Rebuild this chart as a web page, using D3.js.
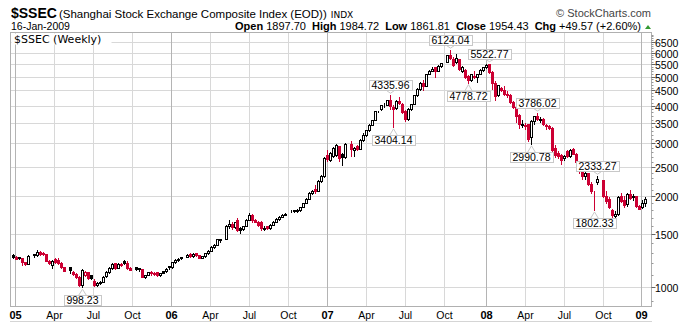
<!DOCTYPE html>
<html><head><meta charset="utf-8">
<script src="https://cdn.jsdelivr.net/npm/d3@7"></script>
<style>
html,body{margin:0;padding:0;background:#fff;}
svg{display:block;font-family:"Liberation Sans",Arial,sans-serif;}
</style></head><body>
<svg id="chart" width="700" height="323"></svg>
<script>
// ---- DATA ----
const firstWeek = "2004-12-27";           // Monday of the first weekly bar
// weekly bars [open, high, low, close]; null = exchange closed all week
const ohlc2005 = [
 [1280,1286,1250,1262],[1262,1268,1235,1242],[1256,1262,1236,1248],[1244,1250,1185,1213],[1210,1215,1180,1192],
 [1195,1282,1188,1272],null,[1288,1292,1262,1276],[1276,1328,1270,1312],[1310,1316,1280,1290],
 [1298,1310,1282,1285],[1285,1290,1216,1222],[1224,1228,1195,1198],[1185,1230,1156,1224],[1240,1246,1206,1212],
 [1232,1250,1196,1200],[1204,1208,1158,1164],[1162,1166,1126,1130],null,[1162,1166,1112,1136],
 [1124,1128,1100,1104],[1106,1110,1075,1080],[1082,1086,1010,1014],[1012,1148,998.23,1140],[1100,1128,1086,1118],
 [1118,1125,1060,1072],[1094,1100,1066,1072],[1050,1062,1008,1015],[1015,1040,1004,1035],[1035,1050,1020,1042],
 [1042,1090,1038,1083],[1084,1126,1078,1120],[1120,1165,1115,1160],[1160,1205,1152,1196],[1198,1204,1150,1158],
 [1160,1200,1155,1194],[1184,1200,1172,1190],[1218,1226,1195,1200],[1205,1223,1150,1158],[1157,1162,1136,1140],
 null,[1162,1166,1140,1146],[1155,1158,1130,1148],[1150,1152,1078,1082],[1080,1098,1070,1094],
 [1100,1125,1095,1118],[1118,1126,1100,1110],[1110,1118,1098,1106],[1118,1122,1090,1096],[1092,1115,1085,1110],
 [1126,1132,1112,1116],[1128,1158,1124,1152],[1170,1175,1150,1161]
];
const ohlc2006 = [
 [1163,1212,1158,1208],[1212,1235,1205,1230],[1228,1248,1220,1242],[1245,1262,1238,1258],null,
 [1262,1285,1258,1280],[1285,1302,1262,1270],[1268,1300,1262,1292],[1295,1302,1270,1275],[1275,1280,1245,1250],
 [1250,1272,1245,1268],[1268,1300,1262,1296],[1296,1330,1290,1322],[1322,1370,1318,1360],[1360,1385,1350,1378],
 [1378,1448,1375,1440],[1430,1445,1410,1440],null,[1445,1602,1440,1595],[1600,1665,1575,1625],
 [1625,1640,1555,1585],[1580,1650,1570,1640],[1670,1690,1540,1550],[1568,1580,1510,1552],[1555,1600,1545,1595],
 [1595,1680,1590,1672],[1672,1757,1665,1730],[1735,1745,1650,1670],[1665,1680,1640,1648],[1650,1660,1600,1612],
 [1645,1660,1550,1565],[1560,1590,1541,1575],[1590,1600,1560,1570],[1565,1615,1560,1610],[1610,1660,1605,1650],
 [1650,1690,1640,1680],[1682,1720,1670,1712],[1712,1745,1705,1738],[1738,1760,1730,1752],null,
 [1795,1800,1775,1785],[1788,1805,1778,1796],[1795,1810,1780,1802],[1800,1850,1790,1845],[1845,1905,1840,1900],
 [1900,1975,1895,1965],[1965,2070,1960,2060],[2050,2100,2030,2090],[2120,2180,2060,2080],[2090,2260,2080,2250],
 [2255,2350,2230,2330],[2330,2698,2320,2675]
];
const ohlc2007 = [
 [2740,2848,2630,2665],[2640,2800,2620,2790],[2720,2910,2700,2890],[2750,2990,2720,2960],[2930,2945,2615,2675],
 [2760,2780,2545,2700],[2700,3000,2690,2980],null,[2995,3049,2720,2880],[2860,2920,2720,2905],
 [2930,2960,2850,2880],[2880,3100,2870,3090],[3090,3250,3060,3200],[3200,3330,3180,3323],[3320,3470,3300,3444],
 [3450,3600,3440,3584],[3590,3850,3580,3841],[3841,3852,3800,3845],[3900,4030,3880,4021],[4030,4100,3950,4030],
 [4030,4190,4010,4181],[4190,4335.96,3900,4000],[3970,4020,3404.14,3913],[3920,4180,3910,4152],[4160,4270,4050,4091],
 [4060,4090,3780,3820],[3830,3860,3563,3615],[3620,3930,3600,3915],[3915,4070,3880,4058],[4060,4350,4050,4345],
 [4350,4570,4320,4560],[4560,4800,4530,4749],[4760,4890,4500,4656],[4660,5110,4650,5108],[5110,5260,5100,5218],
 [5220,5395,5200,5300],[5380,5400,5000,5200],[5220,5460,5200,5420],[5430,5560,5380,5552],null,
 [5600,5913,5590,5900],[5920,6124.04,5740,5780],[5740,5790,5420,5480],[5590,5960,5560,5777],[5700,5720,5260,5316],
 [5220,5440,5180,5368],[5250,5280,4950,5000],[5030,5060,4778.72,4871],[4870,5100,4850,5091],[4970,5200,4950,5030],
 [5000,5110,4810,5101],[5110,5290,5100,5261],[5265,5370,5200,5361]
];
const ohlc2008 = [
 [5370,5500,5330,5484],[5490,5522.77,5150,5180],[5180,5200,4559,4761],[4760,4850,4195,4320],[4330,4680,4300,4672],
 [4600,4610,4480,4497],[4500,4650,4360,4370],[4370,4480,4280,4348],[4340,4390,4100,4120],[4120,4150,3930,3962],
 [3950,3960,3541,3700],[3720,3760,3380,3470],[3440,3600,3400,3480],[3420,3500,3350,3460],[3470,3480,3050,3094],
 [3150,3580,2990.78,3558],[3560,3710,3490,3693],[3700,3786.02,3580,3613],[3600,3680,3520,3626],[3620,3640,3440,3474],
 [3460,3480,3360,3433],[3430,3460,3340,3379],[3380,3390,2820,2860],[2900,2970,2710,2748],[2780,2840,2690,2720],
 [2740,2760,2566,2640],[2680,2740,2640,2725],[2830,2860,2700,2720],[2720,2880,2700,2860],[2870,2900,2760,2775],
 [2770,2780,2580,2605],[2600,2610,2400,2440],[2440,2480,2284,2330],[2330,2420,2290,2397],[2390,2400,2180,2202],
 [2200,2230,2050,2079],[2070,2086,1802.33,2075],[2240,2333.27,2200,2293],null,[2260,2270,1990,2000],
 [2000,2080,1900,1930],[1955,1990,1830,1840],[1800,1812,1664.93,1728],[1720,1790,1680,1747],[1750,2000,1740,1987],
 [2000,2050,1920,1930],[1940,2000,1850,1871],[1880,2050,1860,2035],[2040,2100,1960,1972],[1990,2040,1950,2001],
 [2000,2010,1850,1861],[1855,1870,1814,1821]
];
const ohlc2009 = [
 [1850,1950,1830,1904],[1897.70,1984.72,1861.81,1954.43]
];
const yTicks = [1000,1500,2000,2500,3000,3500,4000,4500,5000,5500,6000,6500];
const peakLabels = [998.23, 4335.96, 3404.14, 6124.04, 4778.72, 5522.77, 2990.78, 3786.02, 2333.27, 1802.33];
const monthNames = ["Jan","Feb","Mar","Apr","May","Jun","Jul","Aug","Sep","Oct","Nov","Dec"];
const gridMonths = [0,3,6,9];
const symbol = "$SSEC";
const titleText = "(Shanghai Stock Exchange Composite Index (EOD))";
const exchText = "INDX";
const dateText = "16-Jan-2009";
const panelLabel = "$SSEC (Weekly)";
const quoteNames = ["Open","High","Low","Close","Chg"];
const quoteValues = ["1897.70","1984.72","1861.81","1954.43","+49.57 (+2.60%)"];
const credit = "\u00A9 StockCharts.com";

// ---- LAYOUT ----
const W = 700, H = 323;
const P = {left: 10.5, right: 651.5, top: 32.5, bottom: 306.5};
const RED = "#cc0033";
const svg = d3.select("#chart");

const bars = [].concat(ohlc2005, ohlc2006, ohlc2007, ohlc2008, ohlc2009);
const start = d3.utcParse("%Y-%m-%d")(firstWeek);
let prev = null;
const data = bars.map((v, i) => {
  const d = {i, date: d3.utcDay.offset(start, 7 * i), v, prev};
  if (v) prev = v[3];
  return d;
});

const x = d3.scaleLinear().domain([0, bars.length - 1]).range([12.8, 12.8 + 2.996 * (bars.length - 1)]);
const y = d3.scaleLog().domain([1000, 10000]).range([287, -14]);

// background grid
const grid = svg.append("g");
yTicks.forEach(t => {
  const yy = Math.round(y(t)) + 0.5;
  grid.append("line").attr("x1", P.left).attr("x2", P.right).attr("y1", yy).attr("y2", yy)
    .attr("stroke", "#d8d8d8").attr("stroke-width", 1);
});
const xMarks = [];
data.forEach((d, k) => {
  const m = d.date.getUTCMonth();
  const pm = k > 0 ? data[k - 1].date.getUTCMonth() : -1;
  if (k > 0 && m !== pm && gridMonths.includes(m)) {
    xMarks.push({i: d.i, year: m === 0, label: m === 0 ? d3.utcFormat("%y")(d.date) : monthNames[m]});
  }
});
xMarks.forEach(mk => {
  const xx = Math.floor(x(mk.i)) + 0.5;
  grid.append("line").attr("x1", xx).attr("x2", xx).attr("y1", P.top).attr("y2", P.bottom)
    .attr("stroke", mk.year ? "#b4b4b4" : "#d8d8d8").attr("stroke-width", 1);
});

// frame
svg.append("rect").attr("x", P.left).attr("y", P.top).attr("width", P.right - P.left).attr("height", P.bottom - P.top)
  .attr("fill", "none").attr("stroke", "#b0b0b0");

// panel label
const pl = svg.append("g");
pl.append("rect").attr("x", P.left + 1).attr("y", P.top + 1).attr("width", 100).attr("height", 11).attr("fill", "#fff");
pl.append("text").attr("x", 14).attr("y", 43).attr("font-family", "DejaVu Sans, Verdana, sans-serif")
  .attr("font-size", 11).attr("fill", "#000").text(panelLabel);

// candles
const cg = svg.append("g");
data.forEach(d => {
  if (!d.v) return;
  const [o, h, l, c] = d.v;
  const col = (d.prev != null && c < d.prev) ? RED : "#000";
  const cx = Math.round(x(d.i));
  const yH = Math.round(y(h)), yL = Math.round(y(l)), yO = Math.round(y(o)), yC = Math.round(y(c));
  cg.append("line").attr("x1", cx + 0.5).attr("x2", cx + 0.5).attr("y1", yH).attr("y2", yL + 1)
    .attr("stroke", col).attr("stroke-width", 1);
  const top = Math.min(yO, yC), bot = Math.max(yO, yC);
  cg.append("rect").attr("x", cx - 0.5).attr("y", top + 0.5).attr("width", 2).attr("height", Math.max(bot - top, 0))
    .attr("fill", c >= o ? "#fff" : col).attr("stroke", col).attr("stroke-width", 1);
});

// peak / trough annotations
const ag = svg.append("g");
peakLabels.forEach(val => {
  const hi = data.find(d => d.v && d.v[1] === val);
  const lo = data.find(d => d.v && d.v[2] === val);
  const d = hi || lo;
  if (!d) return;
  const cx = Math.round(x(d.i)) + 0.5;
  const txt = val.toFixed(2);
  const t = ag.append("text").attr("font-size", 10.5).attr("text-anchor", "middle").attr("fill", "#000").text(txt);
  const tw = t.node().getComputedTextLength();
  const bw = Math.round(tw + 5), bh = 10;
  let by, tip, edge;
  if (hi) { tip = y(val) - 2; by = Math.round(y(val)) - 5 - bh; edge = by + bh; }
  else { tip = y(val) + 2; by = Math.round(y(val)) + 8; edge = by; }
  const bx = Math.round(cx - bw / 2);
  ag.insert("path", "text").attr("d", `M${cx - 4},${edge + 0.5}L${cx},${tip}L${cx + 4},${edge + 0.5}`)
    .attr("fill", "none").attr("stroke", "#c8c8c8");
  ag.insert("rect", "text").attr("x", bx + 0.5).attr("y", by + 0.5).attr("width", bw).attr("height", bh)
    .attr("fill", "#fff").attr("stroke", "#c8c8c8");
  t.attr("x", cx).attr("y", by + bh - 1);
});

// right axis
const ax = svg.append("g");
d3.range(900, 7000, 100).forEach(v => {
  const yy = Math.round(y(v)) + 0.5;
  if (yy < P.top || yy > P.bottom) return;
  ax.append("line").attr("x1", P.right).attr("x2", P.right + 2).attr("y1", yy).attr("y2", yy).attr("stroke", "#999");
});
yTicks.forEach(t => {
  const yy = Math.round(y(t)) + 0.5;
  ax.append("line").attr("x1", P.right).attr("x2", P.right + 4).attr("y1", yy).attr("y2", yy).attr("stroke", "#666");
  ax.append("text").attr("x", 655).attr("y", yy + 4).attr("font-size", 10.5).attr("fill", "#000").text(t);
});

// bottom axis labels
const bx = svg.append("g");
xMarks.forEach(mk => {
  const xx = Math.floor(x(mk.i)) + 0.5;
  bx.append("text").attr("x", xx).attr("y", 319).attr("text-anchor", "middle")
    .attr("font-size", mk.year ? 11 : 10.5).attr("font-weight", mk.year ? "bold" : "normal")
    .attr("font-family", mk.year ? "Liberation Sans Narrow, Liberation Sans, Arial" : null)
    .attr("fill", "#000").text(mk.label);
});
bx.append("line").attr("x1", P.left).attr("x2", P.right).attr("y1", 321.5).attr("y2", 321.5)
  .attr("stroke", "#aaa").attr("stroke-dasharray", "1,1");

// header
const hd = svg.append("g");
const t1 = hd.append("text").attr("x", 11).attr("y", 18);
t1.append("tspan").attr("font-weight", "bold").attr("font-size", 14).text(symbol);
t1.append("tspan").attr("font-size", 11.5).attr("dx", 2).text(titleText);
t1.append("tspan").attr("font-size", 9).attr("dx", 4).attr("font-family", "DejaVu Sans, Verdana").text(exchText);
hd.append("text").attr("x", 11).attr("y", 30).attr("font-size", 10.5).text(dateText);
const q = hd.append("text").attr("x", 641).attr("y", 30).attr("text-anchor", "end").attr("font-size", 11);
quoteNames.forEach((n, k) => {
  q.append("tspan").attr("font-weight", "bold").attr("dx", k ? 6 : 0).text(n);
  q.append("tspan").attr("dx", 3).text(quoteValues[k]);
});
hd.append("path").attr("d", "M645,29L651,29L648,25Z").attr("fill", "#339933");
hd.append("text").attr("x", 651).attr("y", 17).attr("text-anchor", "end").attr("font-size", 11).attr("fill", "#444").text(credit);
</script>
</body></html>
